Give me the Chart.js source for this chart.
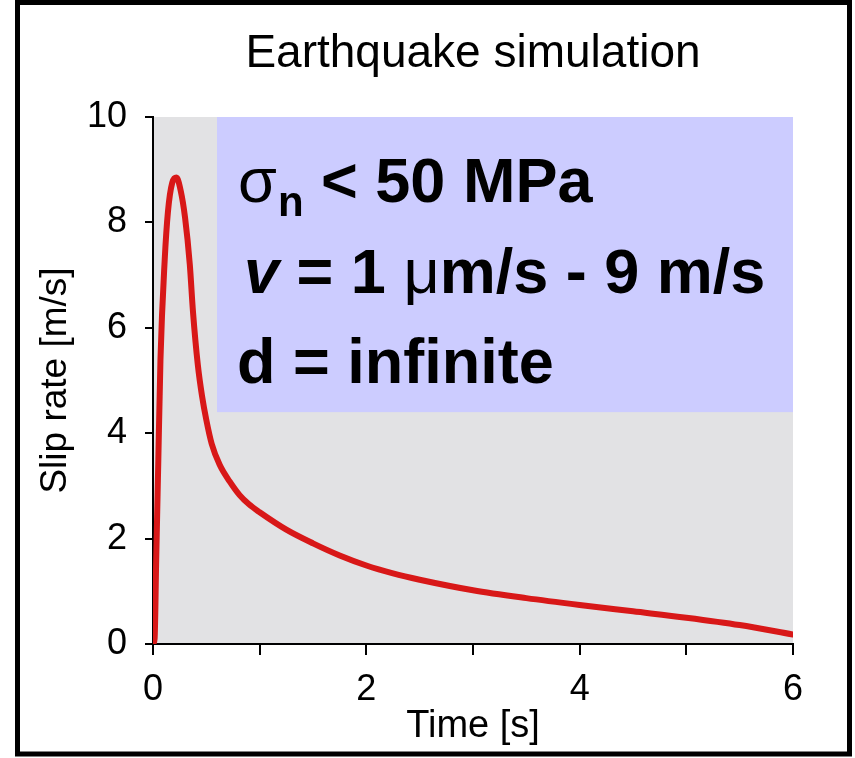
<!DOCTYPE html>
<html>
<head>
<meta charset="utf-8">
<script src="https://cdn.jsdelivr.net/npm/chart.js@4"></script>
<style>
  html, body { margin: 0; padding: 0; background: #ffffff; }
  canvas { display: block; }
</style>
</head>
<body>
<canvas id="c" width="855" height="758"></canvas>
<script>
// ---- data ----
const timeS = [0, 0.015, 0.03, 0.05, 0.07, 0.11, 0.14, 0.18, 0.22, 0.26, 0.30, 0.345, 0.375, 0.42, 0.46, 0.50, 0.55, 0.625, 0.72, 0.81, 0.9, 1.0, 1.25, 1.5, 1.75, 2.0, 2.25, 2.5, 3.0, 3.5, 4.0, 4.5, 5.0, 5.5, 6.0];
const slipRate = [0, 0.1, 1.6, 3.5, 5.4, 7.3, 8.2, 8.75, 8.85, 8.6, 8.1, 7.2, 6.3, 5.3, 4.7, 4.25, 3.8, 3.4, 3.08, 2.83, 2.65, 2.5, 2.17, 1.91, 1.68, 1.49, 1.34, 1.22, 1.02, 0.87, 0.74, 0.62, 0.5, 0.36, 0.18];
const xTicks = [0, 2, 4, 6];
const yTicks = [0, 2, 4, 6, 8, 10];
const chartTitle = 'Earthquake simulation';
const xTitle = 'Time [s]';
const yTitle = 'Slip rate [m/s]';
// annotation box (in data units)
const boxRange = { x0: 0.6, x1: 6, y0: 4.4, y1: 10 };

const FONT = '"Liberation Sans", Arial, Helvetica, sans-serif';
Chart.defaults.font.family = FONT;
Chart.defaults.color = '#000';

const bgPlugin = {
  id: 'bg',
  beforeDraw(chart) {
    const { ctx, chartArea: a, scales: { x, y } } = chart;
    ctx.save();
    ctx.strokeStyle = '#000';
    ctx.lineWidth = 5;
    ctx.strokeRect(17.5, 2.5, 832, 751.5);
    ctx.fillStyle = '#e2e2e4';
    ctx.fillRect(a.left, a.top, a.right - a.left, a.bottom - a.top);
    const bx0 = x.getPixelForValue(boxRange.x0), bx1 = x.getPixelForValue(boxRange.x1);
    const by0 = y.getPixelForValue(boxRange.y1), by1 = y.getPixelForValue(boxRange.y0);
    ctx.fillStyle = '#ccccff';
    ctx.fillRect(bx0, by0, bx1 - bx0, by1 - by0);
    ctx.restore();
  },
  afterDatasetsDraw(chart) {
    const { ctx } = chart;
    ctx.save();
    ctx.fillStyle = '#000';
    ctx.textBaseline = 'alphabetic';
    ctx.textAlign = 'left';
    const S = 63;
    const B = 'bold ' + S + 'px ' + FONT;
    // line 1
    let xp = 238;
    ctx.font = S + 'px ' + FONT;
    ctx.fillText('σ', xp, 202);
    xp += ctx.measureText('σ').width;
    ctx.font = 'bold 42px ' + FONT;
    ctx.fillText('n', xp + 1, 216);
    xp += ctx.measureText('n').width + 1;
    ctx.font = B;
    ctx.fillText(' < 50 MPa', xp, 202);
    // line 2
    xp = 244;
    ctx.font = 'italic bold ' + S + 'px ' + FONT;
    ctx.fillText('v', xp, 293);
    xp += ctx.measureText('v').width;
    ctx.font = B;
    ctx.fillText(' = 1 ', xp, 293);
    xp += ctx.measureText(' = 1 ').width;
    ctx.font = S + 'px ' + FONT;
    ctx.fillText('μ', xp, 293);
    xp += ctx.measureText('μ').width;
    ctx.font = B;
    ctx.fillText('m/s - 9 m/s', xp, 293);
    // line 3
    ctx.fillText('d = infinite', 237, 383);
    ctx.restore();
  }
};

new Chart(document.getElementById('c'), {
  type: 'line',
  data: {
    datasets: [{
      data: timeS.map((t, i) => ({ x: t, y: slipRate[i] })),
      borderColor: '#d81818',
      borderWidth: 6,
      borderCapStyle: 'round',
      borderJoinStyle: 'round',
      pointRadius: 0,
      fill: false,
      cubicInterpolationMode: 'monotone'
    }]
  },
  options: {
    responsive: false,
    animation: false,
    devicePixelRatio: 1,
    layout: { padding: { left: 30, right: 62, top: 0, bottom: 0 } },
    plugins: {
      legend: { display: false },
      tooltip: { enabled: false },
      title: {
        display: true,
        text: chartTitle,
        fullSize: false,
        color: '#000',
        font: { size: 46, weight: 'normal', lineHeight: 1.2 },
        padding: { top: 27, bottom: 34.8 }
      }
    },
    scales: {
      x: {
        type: 'linear',
        min: 0, max: 6,
        afterFit(s) { s.height = 114; },
        afterBuildTicks(s) { s.ticks = [0, 1, 2, 3, 4, 5, 6].map(v => ({ value: v })); },
        ticks: {
          font: { size: 36 },
          padding: 13,
          maxRotation: 0,
          autoSkip: false,
          callback: v => xTicks.includes(v) ? String(v) : ''
        },
        grid: { drawOnChartArea: false, drawTicks: true, tickLength: 11, color: '#000', lineWidth: 2 },
        border: { display: true, color: '#000', width: 2 },
        title: { display: true, text: xTitle, font: { size: 38 }, padding: { top: 0, bottom: 9 } }
      },
      y: {
        min: 0, max: 10,
        afterFit(s) { s.width = 123; },
        afterBuildTicks(s) { s.ticks = yTicks.map(v => ({ value: v })); },
        ticks: { font: { size: 36 }, padding: 18 },
        grid: { drawOnChartArea: false, drawTicks: true, tickLength: 8, color: '#000', lineWidth: 2 },
        border: { display: true, color: '#000', width: 2 },
        title: { display: true, text: yTitle, font: { size: 37 }, padding: { top: 4, bottom: 0 } }
      }
    }
  },
  plugins: [bgPlugin]
});
</script>
</body>
</html>
